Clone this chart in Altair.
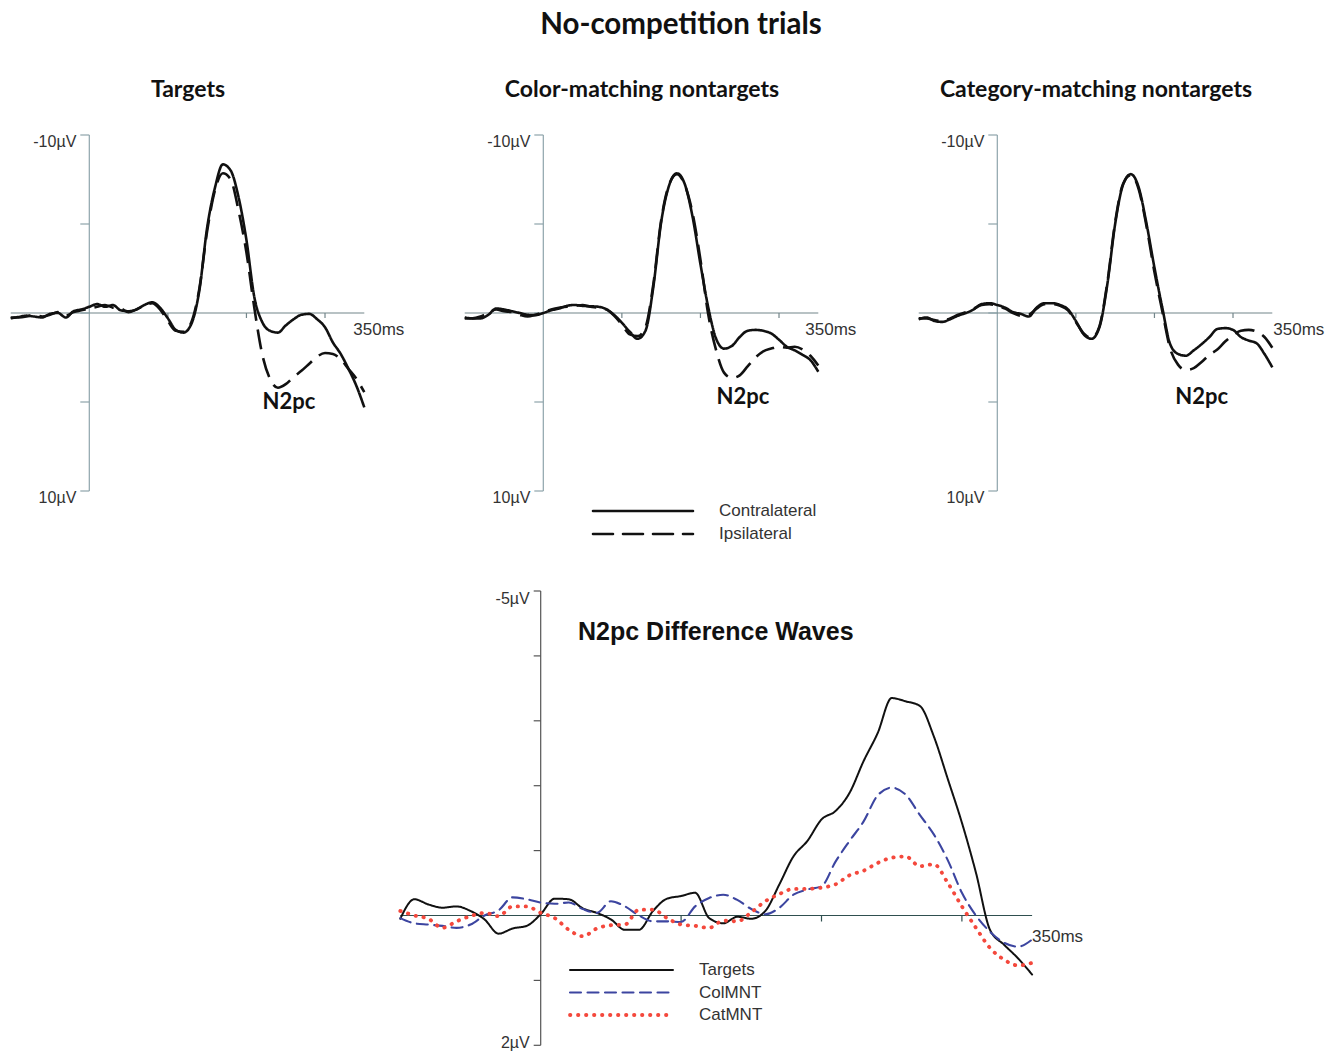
import altair as alt
import pandas as pd

# ---------------------------------------------------------------- data
TIME_MS = list(range(-100, 351, 10))

TGT_CONTRA = [0.3, 0.22, 0.15, 0.2, 0.25, 0.05, 0.0, 0.25, -0.1, -0.2,
              -0.35, -0.5, -0.35, -0.45, -0.15, -0.1, -0.2, -0.45, -0.6, -0.3,
              0.3, 0.95, 1.1, 0.6, -1.25, -4.8, -7.05, -8.35, -8.0, -6.5,
              -4.1, -0.9, 0.5, 1.0, 1.1, 0.7, 0.35, 0.1, 0.05, 0.35,
              0.8, 1.65, 2.3, 3.15, 4.1, 5.3]
TGT_IPSI = [0.25, 0.25, 0.2, 0.1, 0.2, 0.1, -0.05, 0.15, -0.05, -0.15,
            -0.25, -0.35, -0.45, -0.3, -0.25, -0.05, -0.2, -0.4, -0.55, -0.2,
            0.45, 1.0, 1.05, 0.5, -1.35, -4.6, -6.9, -7.85, -7.5, -5.75,
            -3.4, -0.3, 2.3, 3.7, 4.2, 4.0, 3.6, 3.25, 2.85, 2.45,
            2.25, 2.3, 2.6, 3.15, 3.7, 4.45]

COL_CONTRA = [0.25, 0.3, 0.3, 0.1, -0.25, -0.2, -0.1, 0.0, 0.1, 0.12,
              0.0, -0.15, -0.25, -0.4, -0.45, -0.4, -0.38, -0.35, -0.22, 0.1,
              0.55, 1.05, 1.45, 1.0, -1.45, -5.1, -7.15, -7.85, -7.25, -5.4,
              -2.75, -0.3, 1.45, 2.0, 1.85, 1.35, 1.0, 0.95, 1.0, 1.15,
              1.5, 1.9, 2.1, 2.35, 2.65, 3.3]
COL_IPSI = [0.3, 0.3, 0.2, 0.0, -0.2, -0.1, -0.05, 0.1, 0.2, 0.1,
            -0.05, -0.2, -0.3, -0.35, -0.4, -0.45, -0.35, -0.3, -0.2, 0.15,
            0.65, 1.2, 1.3, 0.8, -1.6, -5.2, -7.2, -7.8, -7.2, -5.6,
            -3.0, 0.1, 2.1, 3.35, 3.65, 3.5, 3.0, 2.5, 2.15, 2.0,
            1.9, 1.95, 1.9, 2.05, 2.4, 2.95]

CAT_CONTRA = [0.35, 0.25, 0.45, 0.5, 0.35, 0.15, 0.0, -0.2, -0.5, -0.55,
              -0.45, -0.3, -0.05, 0.05, 0.2, -0.3, -0.55, -0.55, -0.45, -0.2,
              0.45, 1.2, 1.45, 0.8, -1.6, -5.0, -7.2, -7.8, -7.05, -5.0,
              -2.55, -0.3, 1.75, 2.3, 2.4, 2.1, 1.75, 1.35, 0.9, 0.85,
              0.95, 1.35, 1.55, 1.7, 2.3, 3.05]
CAT_IPSI = [0.3, 0.3, 0.4, 0.45, 0.3, 0.1, -0.05, -0.25, -0.45, -0.5,
            -0.4, -0.25, 0.0, 0.15, 0.1, -0.25, -0.5, -0.5, -0.4, -0.15,
            0.5, 1.15, 1.4, 0.75, -1.7, -5.1, -7.25, -7.75, -6.95, -4.85,
            -2.3, -0.1, 2.0, 2.9, 3.2, 3.1, 2.75, 2.35, 2.05, 1.6,
            1.25, 1.0, 0.95, 1.05, 1.35, 1.95]

DIFF_TARGETS = [0.05, -0.25, -0.17, -0.12, -0.14, -0.07, 0.06, 0.28, 0.2, 0.16,
                -0.02, -0.26, -0.25, -0.11, -0.04, 0.06, 0.22, 0.22, -0.07, -0.26,
                -0.3, -0.35, 0.04, 0.12, 0.02, 0.05, -0.07, -0.48, -0.91, -1.15,
                -1.48, -1.61, -1.89, -2.38, -2.81, -3.35, -3.3, -3.23, -2.76, -2.1,
                -1.43, -0.66, 0.22, 0.45, 0.66, 0.91]
DIFF_COLMNT = [0.04, 0.12, 0.14, 0.16, 0.19, 0.14, 0.0, -0.08, -0.28, -0.25,
               -0.2, -0.18, -0.2, -0.1, -0.04, -0.22, -0.14, 0.0, 0.09, 0.09,
               0.1, -0.14, -0.27, -0.32, -0.24, -0.1, -0.02, -0.12, -0.32, -0.4,
               -0.45, -0.83, -1.15, -1.45, -1.85, -1.97, -1.86, -1.55, -1.25, -0.85,
               -0.35, 0.0, 0.25, 0.42, 0.48, 0.37]
DIFF_CATMNT = [-0.07, 0.0, 0.05, 0.19, 0.09, 0.01, -0.04, 0.01, -0.14, -0.14,
               -0.04, 0.04, 0.22, 0.32, 0.2, 0.15, 0.14, -0.09, -0.09, 0.04,
               0.14, 0.16, 0.19, 0.08, 0.09, -0.05, -0.22, -0.33, -0.41, -0.41,
               -0.43, -0.48, -0.62, -0.69, -0.81, -0.89, -0.91, -0.76, -0.79, -0.5,
               -0.14, 0.19, 0.5, 0.68, 0.77, 0.73]

MAIN_TITLE = "No-competition trials"
PANEL_TITLES = ["Targets", "Color-matching nontargets", "Category-matching nontargets"]
SIDE_LABELS = ["Contralateral", "Ipsilateral"]
DIFF_TITLE = "N2pc Difference Waves"
DIFF_LABELS = ["Targets", "ColMNT", "CatMNT"]
N2PC_LABEL = "N2pc"
N2PC_POS = [(254, 5.0), (254, 4.7), (260, 4.7)]   # (ms, µV) of the annotation
TOP_Y_TICKS = [-10, -5, 0, 5, 10]
TOP_Y_LABELS = ["-10µV", "10µV"]
DIFF_Y_TICKS = [-5, -4, -3, -2, -1, 0, 1, 2]
DIFF_Y_LABELS = ["-5µV", "2µV"]
X_TICKS = [100, 200, 300]
X_END_LABEL = "350ms"

# ---------------------------------------------------------------- style
SANS = "Liberation Sans"
HEAD = "Lato"
TXT = "#333333"
INK = "#111111"
AX_TOP = "#8ea4ab"
ZERO_TOP = "#73868a"
AX_DIFF = "#555555"
ZERO_DIFF = "#2f4f4f"
BLUE = "#3c45a0"
RED = "#f4483c"
TOP_PX_MS = 0.7857
DIFF_PX_MS = 1.404
DIFF_DASHES = [[1, 0], [11, 6.5], [0.4, 7.6]]
DIFF_WIDTHS = [2, 2.1, 3.8]

ONE = pd.DataFrame({"k": [0]})


def xd(v, xs):
    return alt.XDatum(v, type="quantitative", scale=xs, axis=None)


def yd(v, ys):
    return alt.YDatum(v, type="quantitative", scale=ys, axis=None)


def axes(xs, ys, y_ticks, y_lo, y_hi, ax_col, zero_col, tick_len, xtick_len):
    y_line = alt.Chart(ONE).mark_rule(color=ax_col, strokeWidth=1.2).encode(
        x=xd(0, xs), y=yd(y_lo, ys), y2=alt.Y2Datum(y_hi))
    zero_line = alt.Chart(ONE).mark_rule(color=zero_col, strokeWidth=1.2).encode(
        x=xd(-100, xs), x2=alt.X2Datum(350), y=yd(0, ys))
    yt = alt.Chart(pd.DataFrame({"v": y_ticks})).mark_rule(
        color=ax_col, strokeWidth=1.2, x2Offset=-tick_len).encode(
        y=alt.Y("v:Q", scale=ys, axis=None), x=xd(0, xs), x2=alt.X2Datum(0))
    xt = alt.Chart(pd.DataFrame({"t": X_TICKS})).mark_rule(
        color=zero_col, strokeWidth=1.2, y2Offset=xtick_len).encode(
        x=alt.X("t:Q", scale=xs, axis=None), y=yd(0, ys), y2=alt.Y2Datum(0))
    return [y_line, zero_line, yt, xt]


def erp_panel(idx, contra, ipsi, x_zero, ms_dx):
    xs = alt.Scale(domain=[-100, 350], range=[x_zero - 100 * TOP_PX_MS, x_zero + 350 * TOP_PX_MS],
                   nice=False, zero=False)
    ys = alt.Scale(domain=[-10, 10], range=[135, 491], nice=False, zero=False)
    n = len(TIME_MS)
    df = pd.DataFrame({"t": TIME_MS * 2, "v": contra + ipsi,
                       "side": [SIDE_LABELS[0]] * n + [SIDE_LABELS[1]] * n})
    waves = alt.Chart(df).mark_line(color=INK, strokeWidth=2.6, interpolate="monotone").encode(
        x=alt.X("t:Q", scale=xs, axis=None),
        y=alt.Y("v:Q", scale=ys, axis=None),
        strokeDash=alt.StrokeDash("side:N", scale=alt.Scale(domain=SIDE_LABELS, range=[[1, 0], [20, 9]]),
                                  legend=None),
    )
    ylab = alt.Chart(pd.DataFrame({"v": [-10, 10], "label": TOP_Y_LABELS})).mark_text(
        align="right", baseline="top", dx=-13, dy=-1, font=SANS, fontSize=16, color=TXT).encode(
        x=xd(0, xs), y=alt.Y("v:Q", scale=ys, axis=None), text="label:N")
    mslab = alt.Chart(pd.DataFrame({"t": [350], "label": [X_END_LABEL]})).mark_text(
        align="left", baseline="middle", dx=ms_dx, dy=17, font=SANS, fontSize=17, color=TXT).encode(
        x=alt.X("t:Q", scale=xs, axis=None), y=yd(0, ys), text="label:N")
    nt, nv = N2PC_POS[idx]
    n2pc = alt.Chart(pd.DataFrame({"t": [nt], "v": [nv], "label": [N2PC_LABEL]})).mark_text(
        font=HEAD, fontWeight="bold", fontSize=22, color=INK, baseline="middle").encode(
        x=alt.X("t:Q", scale=xs, axis=None), y=alt.Y("v:Q", scale=ys, axis=None), text="label:N")
    layers = axes(xs, ys, TOP_Y_TICKS, -10, 10, AX_TOP, ZERO_TOP, 9, 5) + [waves, ylab, mslab, n2pc]
    return alt.layer(*layers)


def diff_panel():
    x_zero = 540.7
    xs = alt.Scale(domain=[-100, 350], range=[x_zero - 100 * DIFF_PX_MS, x_zero + 350 * DIFF_PX_MS],
                   nice=False, zero=False)
    ys = alt.Scale(domain=[-5, 2], range=[591, 1045.3], nice=False, zero=False)
    n = len(TIME_MS)
    df = pd.DataFrame({"t": TIME_MS * 3, "v": DIFF_TARGETS + DIFF_COLMNT + DIFF_CATMNT,
                       "series": [DIFF_LABELS[0]] * n + [DIFF_LABELS[1]] * n + [DIFF_LABELS[2]] * n})
    waves = alt.Chart(df).mark_line(interpolate="monotone", strokeCap="round").encode(
        x=alt.X("t:Q", scale=xs, axis=None),
        y=alt.Y("v:Q", scale=ys, axis=None),
        color=alt.Color("series:N", scale=alt.Scale(domain=DIFF_LABELS, range=[INK, BLUE, RED]), legend=None),
        strokeDash=alt.StrokeDash("series:N", scale=alt.Scale(domain=DIFF_LABELS, range=DIFF_DASHES),
                                  legend=None),
        strokeWidth=alt.StrokeWidth("series:N", scale=alt.Scale(type="ordinal", domain=DIFF_LABELS,
                                                                range=DIFF_WIDTHS), legend=None),
    )
    lab_top = alt.Chart(pd.DataFrame({"v": [-5], "label": [DIFF_Y_LABELS[0]]})).mark_text(
        align="right", baseline="top", dx=-11, dy=0, font=SANS, fontSize=16, color=TXT).encode(
        x=xd(0, xs), y=alt.Y("v:Q", scale=ys, axis=None), text="label:N")
    lab_bot = alt.Chart(pd.DataFrame({"v": [2], "label": [DIFF_Y_LABELS[1]]})).mark_text(
        align="right", baseline="middle", dx=-11, dy=-2, font=SANS, fontSize=16, color=TXT).encode(
        x=xd(0, xs), y=alt.Y("v:Q", scale=ys, axis=None), text="label:N")
    mslab = alt.Chart(pd.DataFrame({"t": [350], "label": [X_END_LABEL]})).mark_text(
        align="left", baseline="middle", dx=0, dy=21, font=SANS, fontSize=17, color=TXT).encode(
        x=alt.X("t:Q", scale=xs, axis=None), y=yd(0, ys), text="label:N")
    layers = axes(xs, ys, DIFF_Y_TICKS, -5, 2, AX_DIFF, ZERO_DIFF, 7, 6) + [waves, lab_top, lab_bot, mslab]
    return alt.layer(*layers)


def legend(labels, y_range, x0, x1, xlab, colors, dashes, widths):
    ldf = pd.DataFrame({"label": labels})
    yscale = alt.Scale(type="point", domain=labels, range=y_range, padding=0)
    lines = alt.Chart(ldf).mark_rule(strokeCap="round").encode(
        y=alt.Y("label:N", scale=yscale, axis=None),
        x=alt.value(x0), x2=alt.value(x1),
        color=alt.Color("label:N", scale=alt.Scale(domain=labels, range=colors), legend=None),
        strokeDash=alt.StrokeDash("label:N", scale=alt.Scale(domain=labels, range=dashes), legend=None),
        strokeWidth=alt.StrokeWidth("label:N", scale=alt.Scale(type="ordinal", domain=labels, range=widths),
                                    legend=None),
    )
    texts = alt.Chart(ldf).mark_text(align="left", baseline="middle", font=SANS, fontSize=17,
                                     color=TXT).encode(
        y=alt.Y("label:N", scale=yscale, axis=None), x=alt.value(xlab), text="label:N")
    return alt.layer(lines, texts)


def text_at(label, x, y, font, size, weight="bold", align="center"):
    return alt.Chart(pd.DataFrame({"label": [label]})).mark_text(
        font=font, fontSize=size, fontWeight=weight, align=align, baseline="middle", color=INK).encode(
        x=alt.value(x), y=alt.value(y), text="label:N")


panels = [
    erp_panel(0, TGT_CONTRA, TGT_IPSI, 89.3, -11),
    erp_panel(1, COL_CONTRA, COL_IPSI, 543.3, -13),
    erp_panel(2, CAT_CONTRA, CAT_IPSI, 997.3, 1),
    diff_panel(),
    legend(SIDE_LABELS, [511, 534], 593, 693, 719, [INK, INK], [[1, 0], [20, 10]], [2.6, 2.6]),
    legend(DIFF_LABELS, [970, 1015], 570, 673, 699, [INK, BLUE, RED], DIFF_DASHES, DIFF_WIDTHS),
    text_at(MAIN_TITLE, 681, 25, HEAD, 29.5),
    text_at(PANEL_TITLES[0], 188, 90, HEAD, 23),
    text_at(PANEL_TITLES[1], 642, 90, HEAD, 23),
    text_at(PANEL_TITLES[2], 1096, 90, HEAD, 23),
    text_at(DIFF_TITLE, 578, 632, SANS, 25, align="left"),
]

chart = alt.layer(*panels).resolve_scale(
    x="independent", y="independent", color="independent",
    strokeDash="independent", strokeWidth="independent",
).properties(
    width=1337, height=1053, padding=0, background="white",
    autosize=alt.AutoSizeParams(type="none"),
).configure_view(stroke=None)

chart.save("out.html", embed_options={"renderer": "svg", "actions": False})
